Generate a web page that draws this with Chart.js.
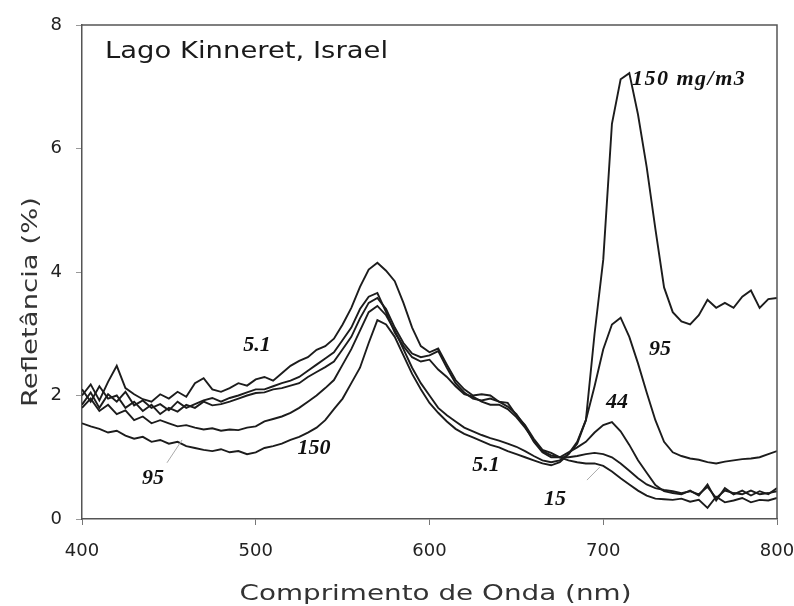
<!DOCTYPE html>
<html lang="pt">
<head>
<meta charset="UTF-8">
<title>Lago Kinneret, Israel - Refletância</title>
<script src="https://cdn.jsdelivr.net/npm/chart.js@4.4.1/dist/chart.umd.min.js"></script>
<style>
  html, body { margin: 0; padding: 0; background: #fff; }
  #chart { display: block; }
</style>
</head>
<body>
<canvas id="chart" width="794" height="606"></canvas>
<script>
// Wavelength grid (nm)
const wavelength = [
  400, 405, 410, 415, 420, 425, 430, 435, 440, 445,
  450, 455, 460, 465, 470, 475, 480, 485, 490, 495,
  500, 505, 510, 515, 520, 525, 530, 535, 540, 545,
  550, 555, 560, 565, 570, 575, 580, 585, 590, 595,
  600, 605, 610, 615, 620, 625, 630, 635, 640, 645,
  650, 655, 660, 665, 670, 675, 680, 685, 690, 695,
  700, 705, 710, 715, 720, 725, 730, 735, 740, 745,
  750, 755, 760, 765, 770, 775, 780, 785, 790, 795,
  800
];

// Reflectance (%), one series per chlorophyll level
const chl5_1 = [
  2.00, 2.18, 1.92, 2.22, 2.48, 2.12, 2.02, 1.94, 1.90, 2.02,
  1.95, 2.06, 1.98, 2.20, 2.28, 2.10, 2.06, 2.12, 2.20, 2.16,
  2.26, 2.30, 2.24, 2.36, 2.48, 2.56, 2.62, 2.74, 2.80, 2.92,
  3.15, 3.42, 3.76, 4.04, 4.15, 4.02, 3.85, 3.50, 3.10, 2.80,
  2.70, 2.76, 2.50, 2.25, 2.10, 2.00, 2.02, 2.00, 1.90, 1.88,
  1.68, 1.52, 1.30, 1.12, 1.07, 1.00, 0.95, 0.92, 0.90, 0.90,
  0.86, 0.77, 0.66, 0.56, 0.46, 0.38, 0.33, 0.32, 0.31, 0.33,
  0.28, 0.31, 0.18, 0.36, 0.27, 0.30, 0.34, 0.27, 0.31, 0.30,
  0.34
];
const chl15 = [
  1.85, 2.05, 1.80, 2.02, 1.90, 2.06, 1.84, 1.92, 1.80, 1.86,
  1.76, 1.90, 1.80, 1.86, 1.92, 1.96, 1.90, 1.96, 2.00, 2.05,
  2.10, 2.10, 2.15, 2.20, 2.24, 2.30, 2.40, 2.50, 2.60, 2.70,
  2.90, 3.10, 3.40, 3.60, 3.66, 3.35, 3.02, 2.80, 2.62, 2.55,
  2.58, 2.42, 2.30, 2.15, 2.02, 1.98, 1.90, 1.85, 1.85, 1.78,
  1.65, 1.48, 1.28, 1.10, 1.03, 1.00, 1.00, 1.02, 1.05, 1.07,
  1.05, 1.00, 0.90, 0.78, 0.66, 0.56, 0.50, 0.47, 0.45, 0.42,
  0.45, 0.40, 0.52, 0.34, 0.46, 0.42, 0.40, 0.46, 0.40, 0.42,
  0.45
];
const chl44 = [
  2.10, 1.90, 2.15, 1.95, 2.00, 1.80, 1.90, 1.75, 1.85, 1.70,
  1.80, 1.74, 1.85, 1.80, 1.90, 1.84, 1.86, 1.90, 1.95, 2.00,
  2.04, 2.05, 2.10, 2.12, 2.16, 2.20, 2.30, 2.38, 2.46, 2.55,
  2.75, 2.95, 3.25, 3.50, 3.58, 3.40, 3.10, 2.85, 2.68, 2.62,
  2.65, 2.72, 2.45, 2.20, 2.05, 1.95, 1.92, 1.95, 1.90, 1.82,
  1.70, 1.50, 1.25, 1.08, 1.00, 1.00, 1.08, 1.16, 1.25, 1.40,
  1.52, 1.57, 1.42, 1.20, 0.95, 0.75, 0.55, 0.45, 0.42, 0.40,
  0.46, 0.38, 0.56, 0.30, 0.50, 0.40, 0.46, 0.38, 0.45, 0.40,
  0.50
];
const chl150 = [
  1.80, 1.95, 1.75, 1.85, 1.70, 1.76, 1.60, 1.66, 1.55, 1.60,
  1.55, 1.50, 1.52, 1.48, 1.45, 1.47, 1.43, 1.45, 1.44, 1.48,
  1.50, 1.58, 1.62, 1.66, 1.72, 1.80, 1.90, 2.00, 2.12, 2.25,
  2.50, 2.75, 3.05, 3.35, 3.45, 3.30, 3.05, 2.75, 2.45, 2.20,
  2.00, 1.80, 1.68, 1.58, 1.48, 1.42, 1.36, 1.31, 1.27, 1.22,
  1.17, 1.10, 1.02, 0.95, 0.92, 0.95, 1.05, 1.22, 1.60, 3.00,
  4.20, 6.40, 7.12, 7.22, 6.55, 5.70, 4.70, 3.75, 3.35, 3.20,
  3.15, 3.30, 3.55, 3.42, 3.50, 3.42, 3.60, 3.70, 3.42, 3.56,
  3.58
];
const chl95 = [
  1.55, 1.50, 1.46, 1.40, 1.43, 1.35, 1.30, 1.33, 1.25, 1.28,
  1.22, 1.25, 1.18, 1.15, 1.12, 1.10, 1.13, 1.08, 1.10, 1.05,
  1.08, 1.15, 1.18, 1.22, 1.28, 1.33, 1.40, 1.48, 1.60, 1.78,
  1.95, 2.20, 2.45, 2.85, 3.22, 3.15, 2.95, 2.65, 2.35, 2.10,
  1.88, 1.72, 1.58, 1.46, 1.38, 1.32, 1.26, 1.20, 1.16, 1.10,
  1.05, 1.00, 0.95, 0.90, 0.87, 0.92, 1.05, 1.25, 1.60, 2.15,
  2.75, 3.15, 3.26, 2.95, 2.52, 2.05, 1.60, 1.25, 1.08, 1.02,
  0.98, 0.96, 0.92, 0.90, 0.93, 0.95, 0.97, 0.98, 1.00, 1.05,
  1.10
];

const seriesNames = ['5.1', '15', '44', '150', '95'];
const seriesValues = [chl5_1, chl15, chl44, chl150, chl95];

const xTicks = [400, 500, 600, 700, 800];
const yTicks = [0, 2, 4, 6, 8];

// curve labels, placed in data coordinates (nm, %)
const curveLabels = [
  { text: '150 mg/m3', x: 716.5, y: 7.12, align: 'left' },
  { text: '95', x: 732.7, y: 2.74, align: 'center' },
  { text: '44', x: 707.9, y: 1.89, align: 'center' },
  { text: '5.1', x: 632.5, y: 0.87, align: 'center' },
  { text: '15', x: 672.2, y: 0.32, align: 'center' },
  { text: '5.1', x: 500.7, y: 2.82, align: 'center' },
  { text: '150', x: 533.5, y: 1.15, align: 'center' },
  { text: '95', x: 440.9, y: 0.66, align: 'center' }
];
const leaders = [
  [448.9, 0.91, 457.6, 1.28],
  [690.6, 0.63, 698.0, 0.84]
];

// draw text stretched to a given width (the original uses a wide Verdana-like face)
function wideText(ctx, text, x, y, width, align) {
  const w = ctx.measureText(text).width;
  const s = width / w;
  ctx.save();
  ctx.translate(x, y);
  ctx.scale(s, 1);
  ctx.textAlign = align;
  ctx.fillText(text, 0, 0);
  ctx.restore();
}

const decorPlugin = {
  id: 'decor',
  afterDatasetsDraw(chart) {
    const { ctx, chartArea: a, scales } = chart;
    const sx = scales.x, sy = scales.y;
    ctx.save();

    // top and right frame lines
    ctx.strokeStyle = '#555';
    ctx.lineWidth = 1.5;
    ctx.beginPath();
    ctx.moveTo(a.left, a.top);
    ctx.lineTo(a.right, a.top);
    ctx.lineTo(a.right, a.bottom);
    ctx.stroke();

    // leader lines
    ctx.strokeStyle = '#aaa';
    ctx.lineWidth = 1;
    leaders.forEach(l => {
      ctx.beginPath();
      ctx.moveTo(sx.getPixelForValue(l[0]), sy.getPixelForValue(l[1]));
      ctx.lineTo(sx.getPixelForValue(l[2]), sy.getPixelForValue(l[3]));
      ctx.stroke();
    });

    // curve labels
    ctx.fillStyle = '#111';
    ctx.font = 'italic bold 22px "Liberation Serif", "DejaVu Serif", serif';
    ctx.textBaseline = 'middle';
    curveLabels.forEach(l => {
      const px = sx.getPixelForValue(l.x), py = sy.getPixelForValue(l.y);
      ctx.textAlign = l.align;
      ctx.letterSpacing = l.text.length > 4 ? '1.5px' : '0px';
      ctx.fillText(l.text, px, py);
    });
    ctx.letterSpacing = '0px';

    // panel title
    ctx.fillStyle = '#1a1a1a';
    ctx.font = '23px "DejaVu Sans", sans-serif';
    ctx.textBaseline = 'alphabetic';
    wideText(ctx, 'Lago Kinneret, Israel', a.left + 23, a.top + 33, 283, 'left');

    // axis titles
    ctx.fillStyle = '#333';
    ctx.font = '22px "DejaVu Sans", sans-serif';
    wideText(ctx, 'Comprimento de Onda (nm)', (a.left + a.right) / 2 + 6, 600, 392, 'center');
    ctx.save();
    ctx.translate(37, (a.top + a.bottom) / 2 + 30);
    ctx.rotate(-Math.PI / 2);
    wideText(ctx, 'Refletância (%)', 0, 0, 210, 'center');
    ctx.restore();

    ctx.restore();
  }
};

const datasets = seriesNames.map((name, i) => ({
  label: name + ' mg/m3',
  data: wavelength.map((w, j) => ({ x: w, y: seriesValues[i][j] })),
  borderColor: '#1c1c1c',
  borderWidth: 1.9,
  pointRadius: 0,
  tension: 0,
  fill: false
}));

new Chart(document.getElementById('chart'), {
  type: 'line',
  data: { datasets },
  options: {
    responsive: false,
    animation: false,
    layout: { padding: { top: 25, right: 0, left: 0, bottom: 0 } },
    plugins: { legend: { display: false }, tooltip: { enabled: false } },
    scales: {
      x: {
        type: 'linear',
        min: 400,
        max: 800,
        afterBuildTicks: s => { s.ticks = xTicks.map(v => ({ value: v })); },
        afterFit: s => { s.height = 87; s.paddingRight = 17; s.paddingLeft = 0; },
        ticks: { color: '#222', font: { family: 'DejaVu Sans', size: 18 }, padding: 16, maxRotation: 0 },
        grid: { drawOnChartArea: false, tickLength: 6, color: '#777' },
        border: { color: '#555', width: 1.5 }
      },
      y: {
        min: 0,
        max: 8,
        afterBuildTicks: s => { s.ticks = yTicks.map(v => ({ value: v })); },
        afterFit: s => { s.width = 82; s.paddingTop = 0; s.paddingBottom = 0; },
        ticks: { color: '#222', font: { family: 'DejaVu Sans', size: 18 }, padding: 14 },
        grid: { drawOnChartArea: false, tickLength: 6, color: '#999' },
        border: { color: '#555', width: 1.5 }
      }
    }
  },
  plugins: [decorPlugin]
});
</script>
</body>
</html>
